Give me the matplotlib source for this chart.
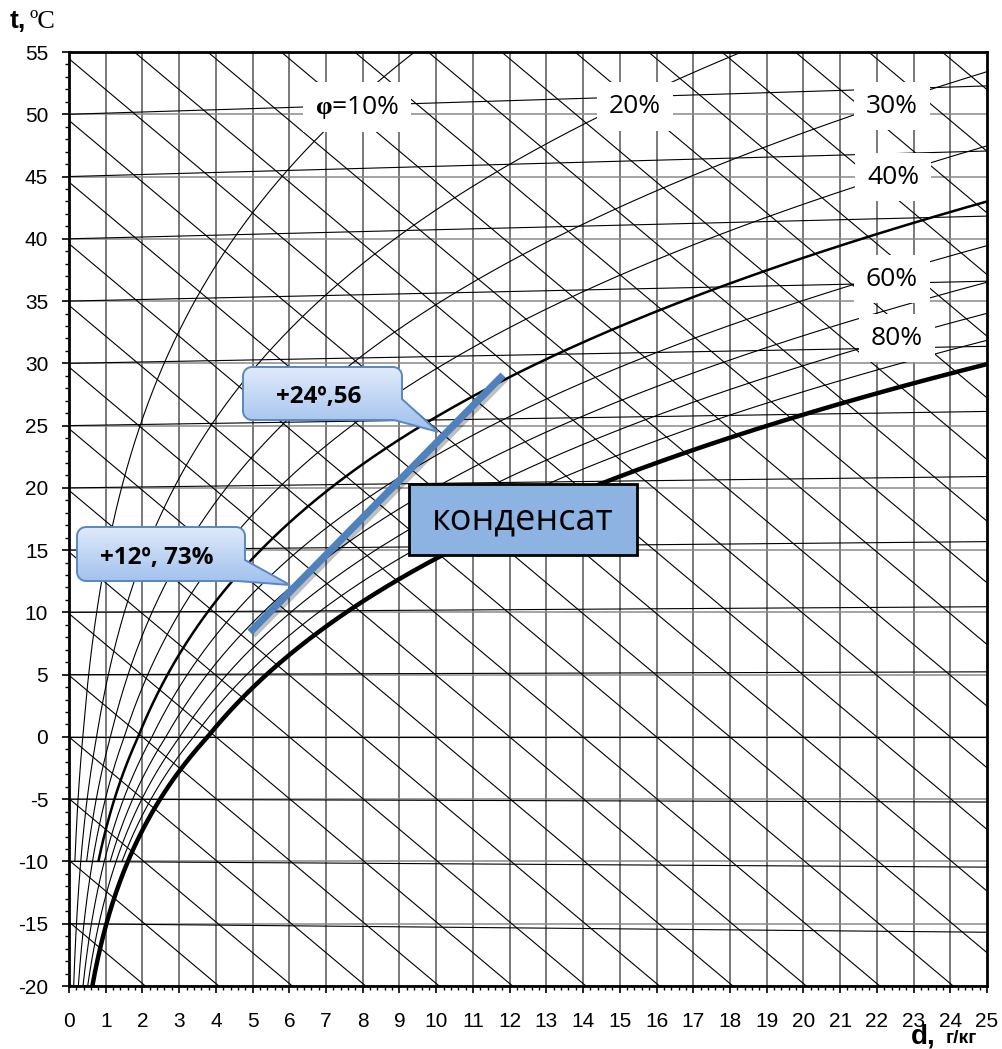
import numpy as np
import matplotlib
matplotlib.use('Agg')
import matplotlib.pyplot as plt
from matplotlib.patches import Polygon
from matplotlib.transforms import Affine2D
import matplotlib.patheffects as pe

W, H = 1002, 1049

# axes
d_ticks = list(range(0, 26))
t_ticks = list(range(-20, 56, 5))
isotherms = list(range(-20, 56, 5))
enthalpies = list(range(-20, 125, 5))

# relative humidity curves, % (thick: 50 and 100)
phi_curves = [10, 20, 30, 40, 50, 60, 70, 80, 90, 100]
phi_start_minus10 = [10, 30, 50, 70, 90]
phi_labels = ['$\\mathbf{φ}$=10%', '20%', '30%', '40%', '60%', '80%']
label_d = [7.84, 15.41, 22.41, 22.44, 22.41, 22.55]
label_t = [50.58, 50.6, 50.66, 44.96, 36.77, 32.03]

# process line and its two marked states
process_d = [4.93, 11.82]
process_t = [8.41, 29.06]
point_d = [6.02, 10.05]
point_t = [12.2, 24.5]
point_text = ['+12º, 73%', '+24º,56']

B = 101.325  # kPa

plt.rcParams['mathtext.fontset'] = 'custom'
plt.rcParams['mathtext.bf'] = 'Liberation Serif:bold'
plt.rcParams['mathtext.rm'] = 'Open Sans'
plt.rcParams['axes.unicode_minus'] = False


def p_sat(t):
    t = np.asarray(t, float)
    return np.where(t >= 0,
                    0.61094 * np.exp(17.625 * t / (t + 243.04)),
                    0.61115 * np.exp(22.452 * t / (272.55 + t)))


def moisture(t, phi):
    pv = phi * p_sat(t)
    return 622 * pv / (B - pv)


def chart_y(t, d):
    # isotherms tilt a little because of vapour heat capacity
    return t + 0.00184 * t * d / 1.01


fig = plt.figure(figsize=(W / 100, H / 100), dpi=100)
ax = fig.add_axes([69 / W, 1 - 986 / H, (987 - 69) / W, (986 - 52) / H])
ax.set_xlim(0, 25)
ax.set_ylim(-20, 55)
ax.set_autoscale_on(False)

dd = np.linspace(0, 25, 300)

for d in d_ticks[1:-1]:
    ax.axvline(d, color='#555555', lw=1.1, zorder=1)
for t in t_ticks:
    ax.axhline(t, color='#8a8a8a', lw=1.1, zorder=1)
for t in isotherms:
    ax.plot(dd, chart_y(t, dd), color='k', lw=0.8, zorder=2)
for i in enthalpies:
    ax.plot(dd, (i - 2.5 * dd) / 1.01, color='k', lw=0.8, zorder=2)

for phi in phi_curves:
    t0 = -10 if phi in phi_start_minus10 else -20
    tt = np.linspace(t0, 70, 1500)
    d = moisture(tt, phi / 100)
    lw = 0.8
    if phi == 50:
        lw = 1.8
    if phi == 100:
        lw = 3.2
    ax.plot(d, chart_y(tt, d), color='k', lw=lw, zorder=3,
            solid_capstyle='butt')

for s, x, y in zip(phi_labels, label_d, label_t):
    ax.text(x, y, s, ha='center', va='center', fontsize=19,
            family=['Open Sans', 'DejaVu Sans'], zorder=6,
            bbox=dict(boxstyle='square,pad=0.45', fc='white', ec='none'))

# process line
ax.plot(process_d, process_t, color='#4F81BD', lw=5.2, zorder=7,
        solid_capstyle='butt',
        path_effects=[pe.SimpleLineShadow(offset=(2, -2), alpha=0.25), pe.Normal()])

# image-pixel transform for annotation shapes
pix = Affine2D().scale(1, -1).translate(0, H)


def callout(box, tip, text, r=9, off_y=21, off_x=8):
    x0, y0, x1, y1 = box
    pts = []
    for cx, cy, a0, a1 in [(x0 + r, y0 + r, 180, 270), (x1 - r, y0 + r, 270, 360)]:
        a = np.radians(np.linspace(a0, a1, 12))
        pts += list(zip(cx + r * np.cos(a), cy + r * np.sin(a)))
    pts += [(x1, y1 - off_y), tip, (x1 - off_x, y1)]
    a = np.radians(np.linspace(90, 180, 12))
    pts += list(zip(x0 + r + r * np.cos(a), y1 - r + r * np.sin(a)))
    patch = Polygon(pts, closed=True, transform=pix, fc='none', ec='#5A87C2',
                    lw=1.4, zorder=9, clip_on=False)
    ax.add_patch(patch)
    top = np.array([0.88, 0.92, 0.98])
    bot = np.array([0.62, 0.75, 0.93])
    k = np.linspace(0, 1, 100)[:, None]
    grad = (top * (1 - k) + bot * k)[:, None, :]
    ybot = max(y1, tip[1])
    im = ax.imshow(grad, extent=(x0, max(x1, tip[0]), ybot, y0), transform=pix,
                   aspect='auto', zorder=8, interpolation='bilinear')
    im.set_clip_path(patch)
    ax.text((x0 + x1) / 2 - 4, (y0 + y1) / 2 + 4, text, transform=pix,
            ha='center', va='center', fontsize=17.5, fontweight='bold',
            family=['Open Sans', 'DejaVu Sans'], zorder=10)


boxes = [(77, 527, 245, 581), (243, 367, 402, 420)]
for box, x, y, s in zip(boxes, point_d, point_t, point_text):
    px, py = ax.transData.transform((x, y))
    callout(box, (px, H - py), s)

# condensate zone label
cond = Polygon([(409, 484), (637, 484), (637, 555), (409, 555)], closed=True,
               transform=pix, fc='#8DB3E2', ec='black', lw=2, zorder=8)
ax.add_patch(cond)
ax.text(523, 520, 'конденсат', transform=pix, ha='center', va='center',
        fontsize=26, family=['Open Sans', 'DejaVu Sans'], zorder=9)

# axes styling
for sp in ax.spines.values():
    sp.set_linewidth(2)
ax.set_xticks(d_ticks)
ax.set_xticks(np.arange(0, 25.01, 0.2), minor=True)
ax.set_yticks(t_ticks)
ax.set_yticks(range(-20, 56), minor=True)
ax.tick_params(which='major', direction='out', length=5, width=1.2)
ax.tick_params(which='minor', direction='out', length=3, width=1)
ax.tick_params(axis='x', which='major', pad=14)
ax.tick_params(axis='y', which='major', pad=10)
for lab in ax.get_xticklabels() + ax.get_yticklabels():
    lab.set_family('Liberation Sans')
    lab.set_fontsize(15)

fig.text(10 / W, 1 - 28 / H, 't,', fontsize=19, fontweight='bold',
         family='Liberation Sans', va='baseline')
fig.text(30 / W, 1 - 28 / H, 'ºC', fontsize=19, family='Liberation Serif',
         va='baseline')
fig.text(911 / W, 1 - 1043 / H, 'd,', fontsize=20, fontweight='bold',
         family='Liberation Sans', va='baseline')
fig.text(946 / W, 1 - 1043 / H, 'г/кг', fontsize=14, fontweight='bold',
         family='Liberation Sans', va='baseline')

fig.savefig('out.png', dpi=100)
